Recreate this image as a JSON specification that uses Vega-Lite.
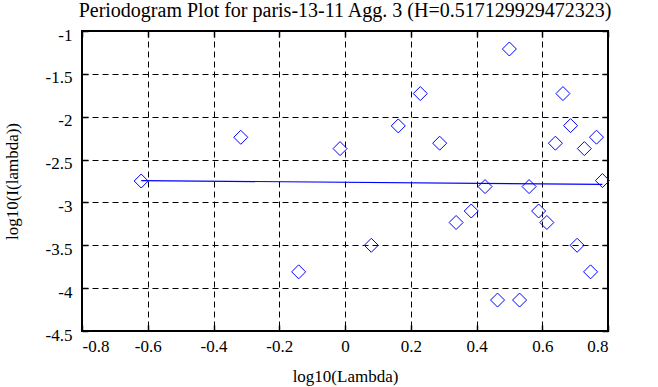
{
  "$schema": "https://vega.github.io/schema/vega-lite/v6.json",
  "width": 526,
  "height": 300,
  "autosize": {"type": "none"},
  "padding": {"left": 82, "top": 31, "right": 50, "bottom": 56},
  "background": "white",
  "title": {
    "text": "Periodogram Plot for paris-13-11 Agg. 3 (H=0.517129929472323)",
    "font": "Liberation Serif",
    "fontSize": 20,
    "fontWeight": "normal",
    "color": "black",
    "anchor": "middle",
    "offset": 5
  },
  "config": {
    "font": "Liberation Serif",
    "view": {"stroke": "black", "strokeWidth": 2},
    "axis": {
      "labelFont": "Liberation Serif",
      "labelFontSize": 17,
      "labelColor": "black",
      "titleFont": "Liberation Serif",
      "titleFontSize": 17,
      "titleFontWeight": "normal",
      "titleColor": "black",
      "gridColor": "black",
      "gridDash": [6, 4],
      "gridWidth": 1,
      "gridOpacity": 1,
      "domain": false,
      "tickColor": "black",
      "tickWidth": 1.5,
      "tickSize": -6
    }
  },
  "datasets": {
    "points": [
      {"lx": -0.62, "ly": -2.75},
      {"lx": -0.317, "ly": -2.24},
      {"lx": -0.141, "ly": -3.81},
      {"lx": -0.015, "ly": -2.372},
      {"lx": 0.08, "ly": -3.5},
      {"lx": 0.162, "ly": -2.107},
      {"lx": 0.229, "ly": -1.73},
      {"lx": 0.288, "ly": -2.309},
      {"lx": 0.338, "ly": -3.234},
      {"lx": 0.384, "ly": -3.1},
      {"lx": 0.426, "ly": -2.815},
      {"lx": 0.464, "ly": -4.139},
      {"lx": 0.5, "ly": -1.21},
      {"lx": 0.531, "ly": -4.139},
      {"lx": 0.56, "ly": -2.815},
      {"lx": 0.589, "ly": -3.1},
      {"lx": 0.614, "ly": -3.234},
      {"lx": 0.64, "ly": -2.309},
      {"lx": 0.663, "ly": -1.73},
      {"lx": 0.686, "ly": -2.104},
      {"lx": 0.706, "ly": -3.5},
      {"lx": 0.728, "ly": -2.372},
      {"lx": 0.747, "ly": -3.81},
      {"lx": 0.765, "ly": -2.239},
      {"lx": 0.783, "ly": -2.745}
    ],
    "fit": [
      {"lx": -0.62, "ly": -2.745},
      {"lx": 0.783, "ly": -2.79}
    ]
  },
  "resolve": {"axis": {"x": "independent", "y": "independent"}},
  "layer": [
    {
      "data": {"name": "points"},
      "mark": {"type": "point", "shape": "diamond", "filled": false, "color": "#0000ff", "strokeWidth": 1, "size": 196, "opacity": 1},
      "encoding": {
        "x": {
          "field": "lx", "type": "quantitative",
          "scale": {"domain": [-0.8, 0.8], "nice": false, "zero": false},
          "axis": {"title": "log10(Lambda)", "grid": true, "values": [-0.8, -0.6, -0.4, -0.2, 0, 0.2, 0.4, 0.6, 0.8], "labelExpr": "replace(format(datum.value, '~g'), '\u2212', '-')", "labelPadding": 13, "titlePadding": 14}
        },
        "y": {
          "field": "ly", "type": "quantitative",
          "scale": {"domain": [-4.5, -1], "nice": false, "zero": false},
          "axis": {"title": "log10(I(lambda))", "grid": true, "values": [-4.5, -4, -3.5, -3, -2.5, -2, -1.5, -1], "labelExpr": "replace(format(datum.value, '~g'), '\u2212', '-')", "labelPadding": 16, "labelOffset": 4, "titlePadding": 24}
        }
      }
    },
    {
      "data": {"name": "fit"},
      "mark": {"type": "line", "color": "#0000ff", "strokeWidth": 1.2},
      "encoding": {
        "x": {"field": "lx", "type": "quantitative", "axis": {"orient": "top", "grid": false, "labels": false, "title": null, "values": [-0.8, -0.6, -0.4, -0.2, 0, 0.2, 0.4, 0.6, 0.8]}},
        "y": {"field": "ly", "type": "quantitative", "axis": {"orient": "right", "grid": false, "labels": false, "title": null, "values": [-4.5, -4, -3.5, -3, -2.5, -2, -1.5, -1]}}
      }
    }
  ]
}
